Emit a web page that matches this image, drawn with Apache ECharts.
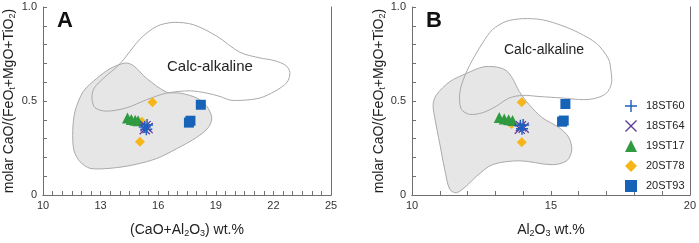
<!DOCTYPE html>
<html>
<head>
<meta charset="utf-8">
<script src="https://cdn.jsdelivr.net/npm/echarts@6/dist/echarts.min.js"></script>
<style>html,body{margin:0;padding:0;background:#fff}#c{width:699px;height:243px}</style>
</head>
<body>
<div id="c"></div>
<script>
// ---- tick labels ----
var xTicksA = [10, 13, 16, 19, 22, 25];
var xTicksB = [10, 15, 20];
var yTicks = [0, 0.5, 1.0];
var seriesNames = ['18ST60', '18ST64', '19ST17', '20ST78', '20ST93'];

// ---- Panel A data: [CaO+Al2O3, molar ratio] ----
var a18ST60 = [[15.30, 0.362], [15.42, 0.372], [15.38, 0.350]];
var a18ST64 = [[15.34, 0.366], [15.45, 0.356], [15.30, 0.350]];
var a19ST17 = [[14.40, 0.410], [14.60, 0.402], [14.80, 0.398], [14.95, 0.395]];
var a20ST78 = [[15.70, 0.494], [15.05, 0.283], [15.15, 0.390]];
var a20ST93 = [[18.22, 0.480], [17.60, 0.385], [17.68, 0.395]];

// ---- Panel B data: [Al2O3, molar ratio] ----
var b18ST60 = [[13.90, 0.368], [14.00, 0.372], [13.96, 0.352]];
var b18ST64 = [[13.92, 0.366], [14.02, 0.358], [13.88, 0.352]];
var b19ST17 = [[13.14, 0.412], [13.32, 0.404], [13.48, 0.400], [13.62, 0.396]];
var b20ST78 = [[13.95, 0.493], [13.95, 0.281], [13.58, 0.378]];
var b20ST93 = [[15.52, 0.484], [15.40, 0.390], [15.46, 0.396]];

// ---- Field outlines ----
var calcA = [[12.71,0.464],[12.55,0.516],[12.66,0.568],[13.14,0.620],[14.01,0.698],[15.05,0.829],[15.92,0.897],[16.79,0.918],[17.83,0.906],[19.05,0.845],[20.26,0.759],[21.30,0.729],[22.08,0.714],[22.66,0.688],[22.86,0.651],[22.71,0.599],[22.08,0.552],[21.30,0.516],[20.42,0.504],[19.74,0.505],[19.22,0.524],[18.53,0.542],[17.66,0.554],[16.44,0.542],[15.40,0.507],[14.36,0.464],[13.32,0.446]];
var atypeA = [[14.27,0.702],[14.70,0.689],[15.40,0.620],[16.44,0.547],[17.14,0.542],[18.01,0.516],[18.53,0.472],[18.79,0.411],[18.61,0.359],[18.01,0.307],[16.96,0.246],[15.92,0.194],[14.70,0.160],[13.49,0.142],[12.45,0.142],[11.93,0.177],[11.61,0.238],[11.55,0.342],[11.67,0.446],[12.10,0.551],[12.80,0.620],[13.49,0.672]];
var calcB = [[11.71,0.516],[11.78,0.585],[12.07,0.689],[12.55,0.811],[12.90,0.880],[13.38,0.923],[13.98,0.938],[14.69,0.932],[15.40,0.901],[16.00,0.863],[16.65,0.805],[17.07,0.724],[17.16,0.660],[17.18,0.594],[17.00,0.542],[16.64,0.516],[16.18,0.507],[15.40,0.516],[14.57,0.524],[13.98,0.530],[13.50,0.516],[13.03,0.472],[12.55,0.438],[12.07,0.429],[11.78,0.455]];
var atypeB = [[13.03,0.681],[13.38,0.663],[13.62,0.620],[13.86,0.551],[14.21,0.482],[14.69,0.411],[15.29,0.359],[15.64,0.307],[15.75,0.240],[15.57,0.182],[15.04,0.161],[13.86,0.182],[12.89,0.161],[12.32,0.099],[11.95,0.047],[11.60,0.012],[11.36,0.030],[11.18,0.134],[11.00,0.272],[10.82,0.411],[10.76,0.481],[10.88,0.533],[11.36,0.603],[11.95,0.646],[12.55,0.681]];

var PLUS = 'path://M4.4,0 L5.6,0 L5.6,4.4 L10,4.4 L10,5.6 L5.6,5.6 L5.6,10 L4.4,10 L4.4,5.6 L0,5.6 L0,4.4 L4.4,4.4 Z';
var CROSS = 'path://M0,0.8 L0.8,0 L5,4.2 L9.2,0 L10,0.8 L5.8,5 L10,9.2 L9.2,10 L5,5.8 L0.8,10 L0,9.2 L4.2,5 Z';
var colors = {'18ST60':'#1f5fbf','18ST64':'#5b3a9b','19ST17':'#2f9a40','20ST78':'#f6b61a','20ST93':'#1763b8'};
var symbols = {'18ST60':PLUS,'18ST64':CROSS,'19ST17':'triangle','20ST78':'diamond','20ST93':'rect'};
var sizes = {'18ST60':12,'18ST64':11,'19ST17':11,'20ST78':10,'20ST93':10};

var chart = echarts.init(document.getElementById('c'));
var FONT = '"Liberation Sans", Arial, sans-serif';
var rich = {
  n:{fontSize:14, color:'#222', fontFamily:FONT, lineHeight:16},
  s:{fontSize:9, color:'#222', fontFamily:FONT, verticalAlign:'bottom', lineHeight:16, padding:[7,0,0,0]}
};
var AX = '#6f6f6f';

function poly(idx, pts, fill, z) {
  return {
    type:'custom', xAxisIndex:idx, yAxisIndex:idx, silent:true, z:z, clip:true,
    data:[[pts[0][0], pts[0][1]]],
    renderItem:function(params, api){
      var p = pts.map(function(d){ return api.coord(d); });
      return {type:'polygon', shape:{points:p, smooth:0.3},
        style:{fill:fill, stroke:'#a9a9a9', lineWidth:1}};
    }
  };
}
function scat(idx, name, data) {
  return {type:'scatter', name:name, xAxisIndex:idx, yAxisIndex:idx, data:data, z:5,
    symbol:symbols[name], symbolSize:sizes[name], itemStyle:{color:colors[name], opacity:1}};
}
function xAxis(idx, ticks, nameRich) {
  return {type:'value', gridIndex:idx, min:ticks[0], max:ticks[ticks.length-1], interval:ticks[1]-ticks[0],
    name:nameRich, nameLocation:'middle', nameGap:27,
    nameTextStyle:{rich:rich},
    axisLine:{show:true, lineStyle:{color:AX}},
    axisTick:{show:true, inside:true, length:4, lineStyle:{color:AX, width:1}},
    minorTick:{show:true, splitNumber: idx===0 ? 6 : 5, length:4, lineStyle:{color:AX, width:1}},
    splitLine:{show:false},
    axisLabel:{color:'#333', fontSize:11, fontFamily:FONT, margin:5}};
}
function yAxis(idx) {
  return {type:'value', gridIndex:idx, min:yTicks[0], max:yTicks[yTicks.length-1], interval:yTicks[1]-yTicks[0],
    name:'{n|molar CaO/(FeO}{s|t}{n|+MgO+TiO}{s|2}{n|)}', nameLocation:'middle', nameGap: idx===0 ? 26 : 21, nameRotate:90,
    nameTextStyle:{rich:rich},
    axisLine:{show:true, lineStyle:{color:AX}},
    axisTick:{show:true, inside:true, length:4, lineStyle:{color:AX, width:1}},
    minorTick:{show:true, splitNumber:5, length:4, lineStyle:{color:AX, width:1}},
    splitLine:{show:false},
    axisLabel:{color:'#333', fontSize:11, fontFamily:FONT, margin:6,
      formatter:function(v){ return v===0 ? '0' : v.toFixed(1); }}};
}
function xTop(idx, ticks) {
  return {type:'value', gridIndex:idx, position:'top', min:ticks[0], max:ticks[ticks.length-1],
    axisLine:{show:true, lineStyle:{color:AX}}, axisTick:{show:false}, axisLabel:{show:false}, splitLine:{show:false}};
}
function yRight(idx) {
  return {type:'value', gridIndex:idx, position:'right', min:yTicks[0], max:yTicks[yTicks.length-1],
    axisLine:{show:true, lineStyle:{color:AX}}, axisTick:{show:false}, axisLabel:{show:false}, splitLine:{show:false}};
}

var series = [
  poly(0, atypeA, '#e6e6e6', 1), poly(0, calcA, 'none', 2),
  poly(1, atypeB, '#e6e6e6', 1), poly(1, calcB, 'none', 2),
  scat(0,'20ST78',a20ST78), scat(0,'19ST17',a19ST17), scat(0,'20ST93',a20ST93), scat(0,'18ST64',a18ST64), scat(0,'18ST60',a18ST60),
  scat(1,'20ST78',b20ST78), scat(1,'19ST17',b19ST17), scat(1,'20ST93',b20ST93), scat(1,'18ST64',b18ST64), scat(1,'18ST60',b18ST60)
];

chart.setOption({
  animation:false,
  grid:[
    {left:43, top:7, width:288, height:192},
    {left:412, top:7, width:280, height:192}
  ],
  xAxis:[
    xAxis(0, xTicksA, '{n|(CaO+Al}{s|2}{n|O}{s|3}{n|) wt.%}'),
    xAxis(1, xTicksB, '{n|Al}{s|2}{n|O}{s|3}{n| wt.%}'),
    xTop(0, xTicksA), xTop(1, xTicksB)
  ],
  yAxis:[yAxis(0), yAxis(1), yRight(0), yRight(1)],
  legend:{
    orient:'vertical', left:620, top:95, itemGap:8, itemWidth:12, itemHeight:12,
    selectedMode:false,
    textStyle:{color:'#222', fontSize:11, fontFamily:FONT, padding:[0,0,0,4]},
    data:seriesNames.map(function(n){ return {name:n, icon:symbols[n], itemStyle:{color:colors[n]}}; })
  },
  graphic:[
    {type:'text', left:57, top:10, style:{text:'A', font:'bold 22px '+FONT, fill:'#111'}},
    {type:'text', left:426, top:10, style:{text:'B', font:'bold 22px '+FONT, fill:'#111'}},
    {type:'text', left:167, top:59, style:{text:'Calc-alkaline', font:'15px '+FONT, fill:'#222'}},
    {type:'text', left:78, top:129, style:{text:'A-type', font:'14px '+FONT, fill:'#222'}},
    {type:'text', left:504, top:43, style:{text:'Calc-alkaline', font:'14px '+FONT, fill:'#222'}},
    {type:'text', left:444, top:129, style:{text:'A-type', font:'14px '+FONT, fill:'#222'}}
  ],
  series:series
});
</script>
</body>
</html>
